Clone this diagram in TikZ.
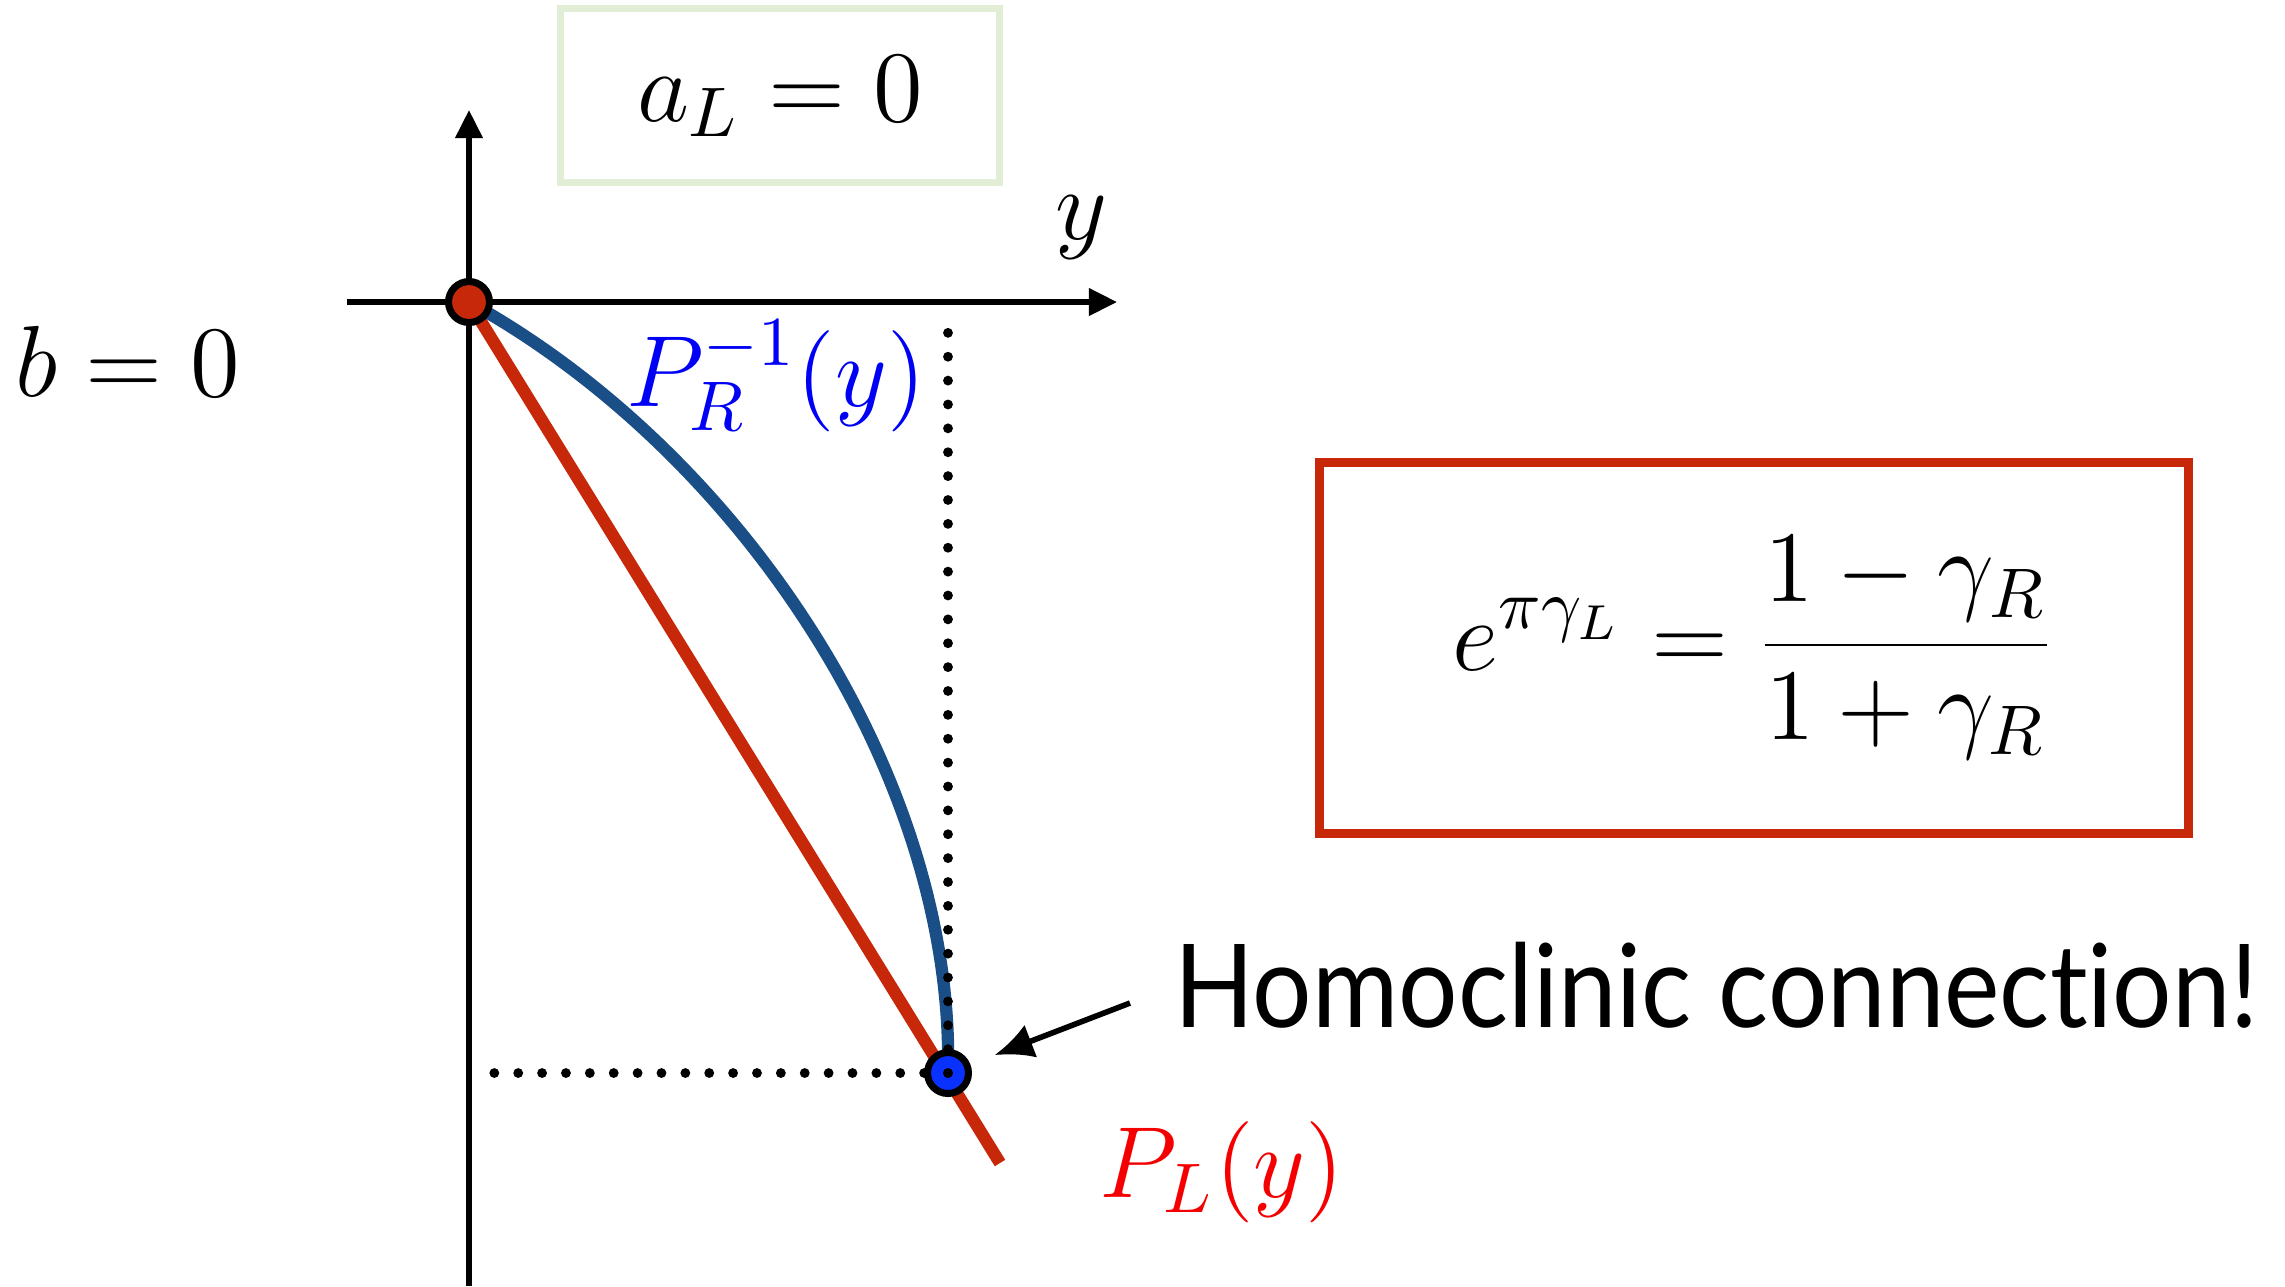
\documentclass[tikz,border=0pt]{standalone}
\usepackage{fontspec}
\usepackage{graphicx}
\usepackage{tikz}
\usetikzlibrary{arrows.meta,positioning}
\usepackage{xcolor}
\definecolor{Ink}{HTML}{000000}
\definecolor{MapRed}{HTML}{C8280A}
\definecolor{MapBlue}{HTML}{1A4E86}
\definecolor{DotBlue}{HTML}{0A32FF}
\definecolor{BoxGreen}{HTML}{E2EDD6}
\definecolor{PBlue}{HTML}{0000F5}
\definecolor{PRed}{HTML}{F50000}
\newfontfamily\gillfont[FakeStretch=0.905,Ligatures=NoCommon]{Lato}

\begin{document}
\begin{tikzpicture}[x=0.005cm,y=-0.005cm,
    ax/.style={-{Triangle[length=4pt,width=3.8pt]},line width=0.75pt,draw=Ink},
    pt/.style={circle,draw=Ink,line width=1pt,inner sep=0pt,minimum size=2.05mm},
    dots/.style={draw=Ink,line width=1.4pt,line cap=round,dash pattern=on 0pt off 3.4pt},
    lbl/.style={font=\Large},
    arr/.style={-{Latex[length=5.5pt,width=5pt]},line width=0.8pt}
  ]
    \useasboundingbox (0,0) rectangle (2285,1286);
    % axes
    \coordinate (ytop) at (469,110);
    \coordinate (ybot) at (469,1286);
    \coordinate (xl) at (347,302);
    \coordinate (xr) at (1117,302);
    \draw[ax] (ybot) -- (ytop);
    \draw[ax] (xl) -- (xr);
    % maps
    \coordinate (fix0) at (469,302);
    \coordinate (plend) at (1000,1163);
    \coordinate (hom0) at (948,1073);
    \draw[MapRed,line width=1.75pt] (fix0) -- (plend);
    \draw[MapBlue,line width=1.75pt] (fix0) .. controls (745,455) and (955,780) .. (hom0);
    \node[pt,fill=MapRed] (fix) at (fix0) {};
    \node[pt,fill=DotBlue] (hom) at (hom0) {};
    % projections
    \coordinate (vtop) at (948,320);
    \coordinate (hleft) at (488,1073);
    \draw[dots] (hom.center) -- (vtop);
    \draw[dots] (hom.center) -- (hleft);
    % labels
    \node[lbl] (ylab) at (1081,228) {$y$};
    \node[lbl] (bzero) at (128,361) {$b=0$};
    \node[lbl,text=PBlue] (pinv) at (776,376) {$P_R^{-1}(y)$};
    \node[lbl,text=PRed] (plab) at (1222,1172) {$P_L(y)$};
    \node[lbl,draw=BoxGreen,line width=1pt,minimum width=2.2cm,minimum height=0.875cm,text depth=0.45ex] (alz) at (780,95.5) {$a_L=0$};
    \node[lbl,draw=MapRed,line width=1.3pt,minimum width=4.35cm,minimum height=1.86cm] (eq) at (1754,648) {$\displaystyle e^{\pi\gamma_L}=\frac{1-\gamma_R}{1+\gamma_R}$};
    \node[anchor=base west,inner sep=0pt,font=\gillfont\fontsize{16.5}{20}\selectfont] (homtxt) at (1173,1027) {Homoclinic connection!};
    \coordinate (arrtail) at (1130,1003);
    \draw[arr,shorten >=0.13cm] (arrtail) -- (hom);
  \end{tikzpicture}
\end{document}
